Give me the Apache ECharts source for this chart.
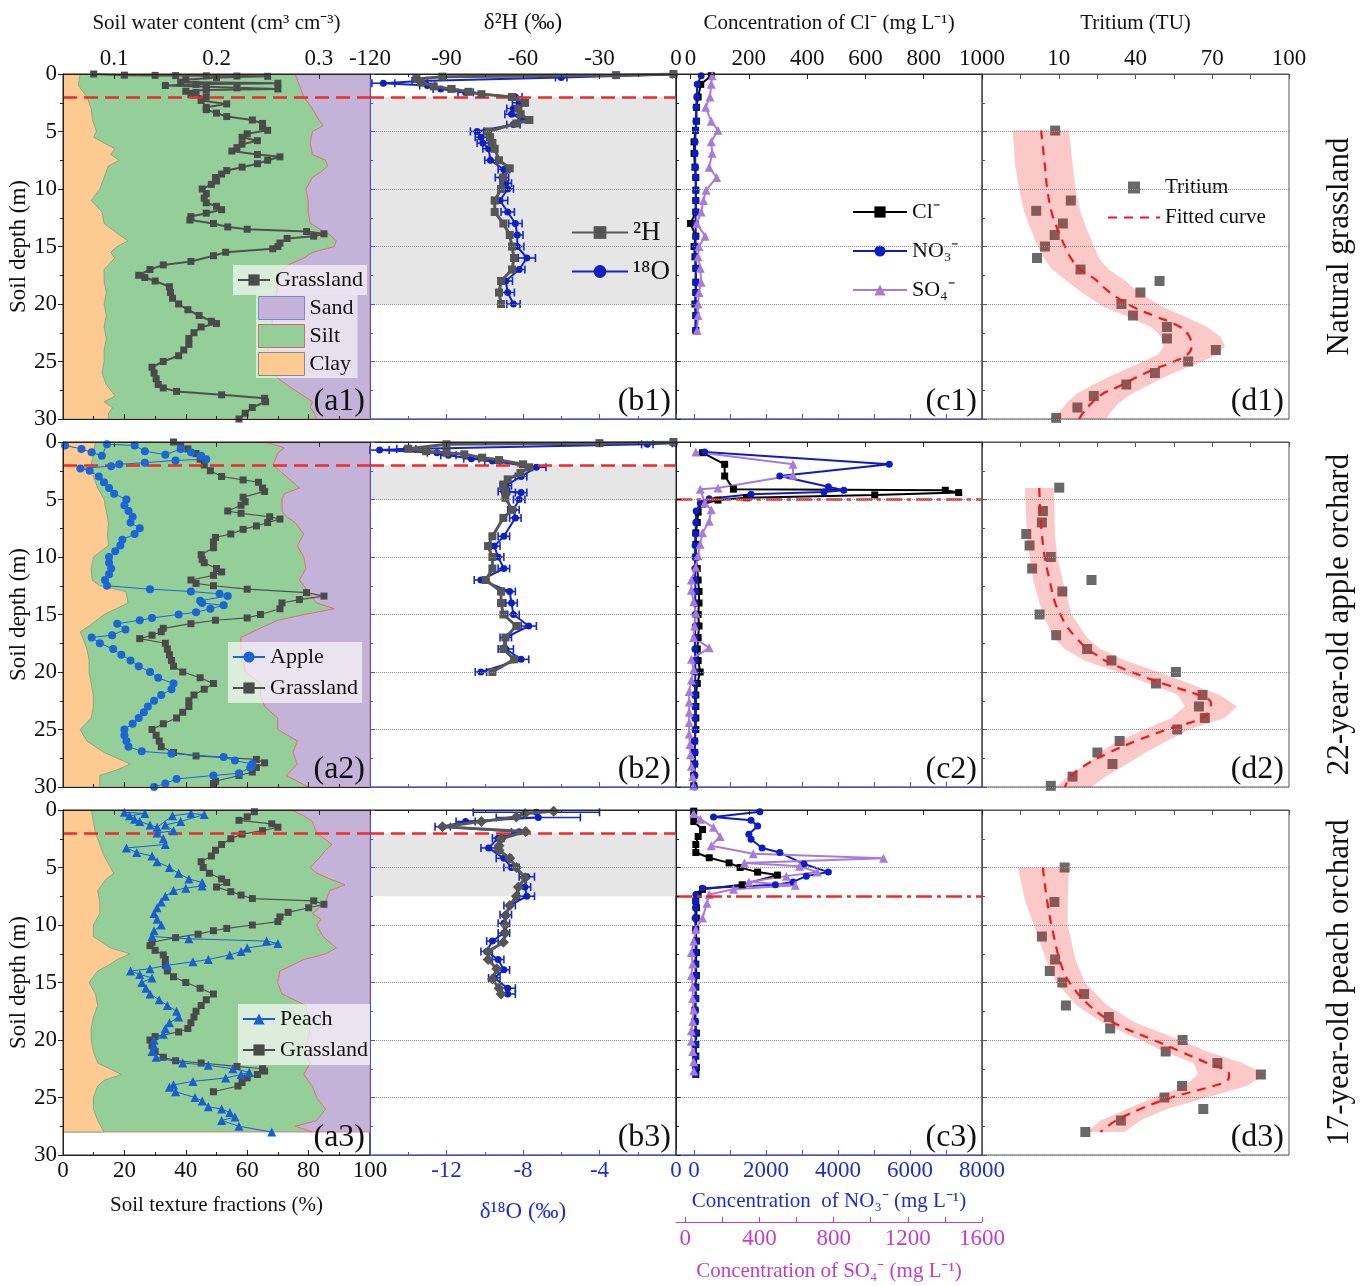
<!DOCTYPE html>
<html>
<head>
<meta charset="utf-8">
<script src="https://cdn.jsdelivr.net/npm/echarts@6/dist/echarts.min.js"></script>
<style>
html,body{margin:0;padding:0;background:#ffffff;}
#chart{width:1371px;height:1286px;}
</style>
</head>
<body>
<div id="chart"></div>
<script>
// ================= DATA (depth in m first, value second) =================
// Soil water content, grassland reference profiles (cm3 cm-3)
const GRASS1 = [[0,0.08],[0.1,0.11],[0.12,0.14],[0.14,0.16],[0.16,0.19],[0.18,0.22],[0.2,0.25],[0.3,0.20],[0.5,0.17],[0.7,0.165],[0.8,0.26],[0.9,0.18],[1.0,0.15],[1.1,0.19],[1.2,0.22],[1.3,0.26],[1.4,0.19],[1.5,0.17],[1.6,0.18],[1.8,0.175],[2.0,0.19],[2.3,0.185],[2.6,0.21],[2.9,0.19],[3.1,0.19],[3.4,0.20],[3.7,0.21],[4.0,0.235],[4.3,0.245],[4.6,0.245],[4.9,0.25],[5.2,0.23],[5.5,0.225],[5.8,0.24],[6.1,0.225],[6.4,0.22],[6.7,0.215],[7.0,0.24],[7.2,0.262],[7.5,0.25],[7.8,0.24],[8.1,0.225],[8.4,0.21],[8.7,0.205],[9.0,0.199],[9.3,0.20],[9.6,0.195],[10.0,0.186],[10.4,0.19],[10.8,0.188],[11.2,0.19],[11.5,0.20],[11.8,0.205],[12.1,0.19],[12.4,0.175],[12.7,0.174],[13.0,0.197],[13.3,0.211],[13.5,0.23],[13.7,0.288],[13.9,0.305],[14.1,0.295],[14.3,0.269],[14.7,0.262],[15.0,0.26],[15.2,0.255],[15.5,0.209],[15.8,0.197],[16.3,0.175],[16.6,0.148],[17.0,0.135],[17.5,0.124],[17.7,0.13],[18.0,0.14],[18.5,0.154],[19.0,0.155],[19.5,0.157],[20.0,0.163],[20.5,0.172],[21.0,0.183],[21.5,0.195],[21.7,0.2],[22.0,0.185],[22.5,0.178],[23.0,0.173],[23.5,0.173],[24.0,0.168],[24.5,0.163],[25.0,0.148],[25.5,0.137],[26.0,0.139],[26.5,0.141],[27.0,0.143],[27.3,0.148],[27.6,0.161],[27.9,0.205],[28.2,0.247],[28.5,0.248],[29.0,0.235],[29.5,0.228],[30.0,0.222]];
const GRASS2 = [[0,0.158],[0.3,0.165],[0.6,0.172],[1.0,0.18],[1.5,0.184],[2.0,0.188],[2.5,0.194],[3.0,0.205],[3.3,0.226],[3.5,0.241],[4.0,0.245],[4.3,0.247],[4.8,0.226],[5.2,0.228],[5.5,0.224],[6.0,0.211],[6.2,0.224],[6.5,0.252],[6.7,0.262],[7.0,0.25],[7.3,0.239],[7.6,0.226],[8.0,0.214],[8.3,0.199],[8.7,0.197],[9.2,0.197],[9.8,0.185],[10.2,0.186],[10.5,0.188],[11.0,0.2],[11.3,0.205],[11.6,0.197],[12.0,0.175],[12.3,0.18],[12.5,0.197],[12.8,0.23],[13.1,0.288],[13.4,0.305],[13.7,0.281],[14.0,0.264],[14.5,0.262],[15.0,0.243],[15.3,0.23],[15.5,0.199],[15.8,0.175],[16.2,0.148],[16.5,0.146],[16.8,0.137],[17.1,0.125],[17.5,0.15],[18.0,0.152],[18.5,0.154],[19.0,0.156],[19.5,0.158],[20.0,0.167],[20.5,0.184],[21.0,0.197],[21.5,0.188],[22.0,0.178],[22.5,0.173],[23.0,0.173],[23.5,0.167],[24.0,0.161],[24.5,0.148],[25.0,0.137],[25.5,0.141],[26.0,0.144],[26.5,0.146],[27.0,0.158],[27.3,0.18],[27.6,0.239],[27.9,0.247],[28.3,0.239],[28.7,0.235],[29.0,0.222],[29.5,0.199],[29.7,0.197]];
const GRASS3 = [[0.15,0.237],[0.6,0.23],[0.9,0.222],[1.2,0.254],[1.5,0.26],[1.8,0.245],[2.1,0.225],[2.5,0.214],[3.0,0.205],[3.5,0.199],[4.0,0.195],[4.5,0.185],[5.0,0.187],[5.5,0.193],[6.0,0.205],[6.3,0.21],[6.7,0.2],[7.1,0.214],[7.4,0.224],[7.7,0.235],[7.9,0.295],[8.2,0.305],[8.5,0.29],[8.9,0.27],[9.3,0.262],[9.7,0.26],[10.0,0.235],[10.3,0.21],[10.5,0.197],[10.8,0.182],[11.1,0.16],[11.5,0.137],[11.8,0.135],[12.2,0.14],[12.6,0.148],[13.0,0.15],[13.5,0.15],[14.0,0.152],[14.5,0.158],[15.0,0.17],[15.5,0.184],[16.0,0.197],[16.5,0.19],[17.0,0.185],[17.5,0.18],[18.0,0.178],[18.5,0.175],[19.0,0.172],[19.3,0.163],[19.7,0.14],[20.0,0.135],[20.5,0.137],[21.0,0.14],[21.5,0.148],[21.8,0.16],[22.0,0.185],[22.3,0.22],[22.5,0.245],[22.7,0.247],[23.0,0.24],[23.3,0.23],[23.7,0.225],[24.0,0.221],[24.5,0.197]];
// Soil water content, orchards
const APPLE = [[0.3,0.052],[0.6,0.068],[0.9,0.078],[1.2,0.088],[0.2,0.093],[0.3,0.12],[0.8,0.13],[1.1,0.15],[0.6,0.165],[0.9,0.175],[1.2,0.185],[1.5,0.19],[1.6,0.16],[1.8,0.13],[1.94,0.105],[2.1,0.097],[2.3,0.067],[2.5,0.076],[3.0,0.085],[3.5,0.09],[4.0,0.095],[4.5,0.1],[5.0,0.112],[5.5,0.11],[6.0,0.114],[6.5,0.118],[7.0,0.116],[7.5,0.125],[8.0,0.12],[8.5,0.108],[9.0,0.106],[9.5,0.101],[10.0,0.095],[10.5,0.095],[11.0,0.097],[11.5,0.095],[12.0,0.091],[12.5,0.093],[12.8,0.135],[13.0,0.175],[13.2,0.203],[13.4,0.211],[13.8,0.184],[14.0,0.186],[14.2,0.207],[14.5,0.194],[14.8,0.18],[15.0,0.163],[15.3,0.137],[15.5,0.125],[15.8,0.103],[16.3,0.111],[16.8,0.098],[17.0,0.078],[17.5,0.086],[18.0,0.099],[18.5,0.107],[19.0,0.116],[19.5,0.124],[20.0,0.135],[20.5,0.143],[21.0,0.158],[21.5,0.156],[22.0,0.146],[22.5,0.139],[23.0,0.133],[23.5,0.129],[24.0,0.124],[24.5,0.118],[25.0,0.11],[25.5,0.11],[26.0,0.112],[26.5,0.114],[26.9,0.127],[27.1,0.156],[27.4,0.207],[27.7,0.218],[28.0,0.235],[28.3,0.233],[28.8,0.222],[29.0,0.197],[29.3,0.161],[29.7,0.15],[30.0,0.139]];
const PEACH = [[0.2,0.11],[0.3,0.13],[0.5,0.115],[0.8,0.12],[1.0,0.125],[1.3,0.135],[1.5,0.142],[0.5,0.157],[0.3,0.175],[0.4,0.188],[1.0,0.165],[1.3,0.15],[1.8,0.158],[2.0,0.142],[2.5,0.148],[3.0,0.15],[3.3,0.112],[3.7,0.122],[4.0,0.137],[4.5,0.142],[5.0,0.154],[5.5,0.163],[6.0,0.173],[6.3,0.186],[6.6,0.186],[6.8,0.17],[7.0,0.158],[7.5,0.15],[8.0,0.146],[8.5,0.142],[9.0,0.139],[9.5,0.142],[10.0,0.146],[10.5,0.139],[11.0,0.137],[11.2,0.173],[11.4,0.249],[11.6,0.26],[12.0,0.23],[12.3,0.224],[12.6,0.213],[13.0,0.192],[13.2,0.177],[13.5,0.152],[13.8,0.135],[14.0,0.116],[14.3,0.125],[14.6,0.137],[15.0,0.127],[15.5,0.131],[16.0,0.135],[16.5,0.144],[17.0,0.152],[17.5,0.161],[18.0,0.163],[18.5,0.154],[19.0,0.15],[19.5,0.148],[20.0,0.139],[20.5,0.139],[21.0,0.137],[21.5,0.141],[22.0,0.167],[22.2,0.192],[22.5,0.216],[22.8,0.232],[23.0,0.224],[23.3,0.209],[23.6,0.177],[23.9,0.158],[24.1,0.154],[24.5,0.16],[25.0,0.179],[25.3,0.186],[25.8,0.192],[26.0,0.205],[26.3,0.213],[26.7,0.218],[27.0,0.205],[27.5,0.222],[28.0,0.254]];
// Soil texture: clay fraction and clay+silt boundary (%)
const CLAY1 = [[0,5.6],[1,5],[2,7.8],[3,9.2],[4,9.6],[5,10.9],[5.5,10],[6,13.4],[6.5,16.9],[7,15.5],[7.5,18.4],[8,14.8],[9,13.4],[10,12],[11,9.2],[12,12.7],[13,13.4],[14,18.4],[14.5,21.2],[15,17.7],[15.5,15.5],[16,16.9],[17,13.4],[18,13.4],[19,14.1],[20,13.4],[21,14.1],[22,13.4],[23,14.1],[24,13.4],[25,13.4],[26,12.7],[27,14.1],[28,17],[28.5,13.4],[29,16.2],[29.5,14.8],[30,14.8]];
const SILT1 = [[0,75.6],[1,77],[2,78.4],[3,81.2],[4,83.3],[4.5,84.7],[5,81.2],[6,80.5],[7,81.2],[7.5,85.5],[8,86.2],[8.5,84],[9,81.2],[10,79.1],[11,79.8],[12,79.8],[13,80.5],[14,86.9],[14.5,89],[15,88.3],[15.5,81.2],[16,78.4],[16.5,74.2],[17,71.3],[18,69.9],[19,69.6],[20,69.2],[21,68.5],[22,67.8],[23,67.1],[24,66.8],[25,67.1],[26,67.8],[27,72.7],[28,78.4],[28.5,81.2],[29,80.5],[29.5,81.9],[30,82.6]];
const CLAY2 = [[0,10.6],[1,9.9],[2,9.2],[3,9.9],[4,11.3],[5,13.4],[6,14.1],[7,14.8],[8,14.5],[9,14.8],[10,9.9],[11,9.2],[12,9.5],[12.5,12],[13,20.5],[14,21.2],[15,13.4],[16,8.5],[16.5,5.6],[17,6.4],[18,7.8],[19,8.5],[20,8.5],[21,9.2],[22,9.9],[23,9.9],[24,9.2],[25,5.6],[26,7.8],[27,13.4],[28,21.9],[28.5,17.7],[29,12],[30,12]];
const SILT2 = [[0,65.7],[0.5,72],[1,69.9],[2,68.4],[3,72.7],[4,77],[4.5,72],[5,71.3],[6,71.3],[6.5,72.7],[7,75.6],[8,78.4],[9,76.3],[10,78.4],[11,79.1],[12,77],[13,79.8],[14,82.6],[14.5,88.3],[15,78.4],[15.5,69.9],[16,65.7],[17,57.9],[18,57.9],[19,58.6],[20,59.3],[21,64.3],[22,64.3],[23,65.7],[24,69.9],[25,69.9],[26,76.3],[27,74.9],[28,76.3],[29,72.7],[30,79.8]];
const CLAY3 = [[0,9.2],[1,9.9],[2,10.6],[3,12],[4,13.4],[5,15.5],[5.5,16.5],[6,14.1],[7,11.3],[8,12],[9,12],[10,9.9],[11,9.9],[12,15.5],[12.5,21.9],[13,17.7],[13.5,14.8],[14,11.3],[15,8.5],[16,10.6],[17,11.3],[18,9.9],[19,9.2],[20,9.2],[21,9.9],[22,11.3],[23,19.1],[23.5,13.4],[24,11.3],[25,9.9],[26,9.9],[27,11.3],[28,13.4]];
const SILT3 = [[0,74.2],[0.5,78.4],[1,81.2],[2,82.6],[3,87.6],[3.5,85.5],[4,84],[5,80.5],[5.5,82.6],[6,86.9],[6.5,91.8],[7,86.9],[8,85.5],[9,81.2],[9.5,84],[10,82.6],[11,84.7],[12,89],[12.5,85.5],[13,78.4],[14,70.6],[15,69.9],[16,71.3],[17,79.1],[18,79.8],[19,80.5],[20,79.8],[21,78.4],[22,80.5],[23,78.4],[24,81.2],[25,82.6],[26,85.5],[27,82.6],[27.5,75.6],[28,81.2]];
// Stable isotopes: δ2H (‰) and δ18O (‰, error)
const H2_1 = [[0,-1],[0.1,-23.5],[0.23,-91.6],[0.44,-101.8],[0.73,-100],[1.08,-95],[1.3,-88],[1.55,-81.4],[1.75,-76.3],[2.0,-64.3],[2.5,-59.2],[3.0,-61.8],[3.5,-60.9],[4.0,-57.5],[4.3,-62.6],[5.0,-73.7],[5.5,-72.9],[6.0,-72.0],[6.5,-71.1],[7.5,-69.4],[8.2,-65.2],[9.0,-67.7],[10.0,-68.6],[11.0,-71.1],[12.0,-71.1],[13.0,-67.7],[14.0,-65.2],[15.0,-64.3],[16.0,-63.5],[17.0,-64.3],[18.0,-68.6],[19.0,-69.4],[20.0,-68.6]];
const O18_1 = [[0.05,-0.1,0.1],[0.3,-6.0,0.3],[0.6,-13.4,0.4],[0.8,-15.3,0.6],[1.0,-13.0,0.4],[1.3,-12.3,0.4],[1.6,-11.0,0.4],[2.0,-8.4,0.35],[2.5,-8.2,0.35],[3.0,-8.5,0.35],[3.5,-8.6,0.35],[4.0,-7.9,0.35],[4.4,-8.5,0.35],[5.0,-10.4,0.35],[5.5,-10.2,0.3],[6.0,-10.1,0.3],[6.5,-9.8,0.3],[7.5,-9.7,0.3],[8.3,-9.0,0.3],[9.0,-9.1,0.35],[9.5,-8.9,0.3],[10.0,-8.8,0.3],[11.0,-9.2,0.4],[12.0,-8.8,0.35],[13.0,-8.4,0.35],[14.0,-8.3,0.3],[15.0,-8.3,0.35],[16.0,-7.8,0.45],[17.0,-8.2,0.3],[18.0,-8.9,0.35],[19.0,-8.8,0.35],[20.0,-8.5,0.35]];
const H2_2 = [[0,-1],[0.1,-30],[0.2,-90],[0.58,-105],[0.8,-98],[0.93,-90],[1.07,-83],[1.36,-76],[1.57,-69.4],[1.94,-60],[2.2,-57.5],[2.7,-61],[3.25,-66],[3.7,-67.7],[4.3,-66.9],[4.85,-66.9],[5.9,-64.3],[6.6,-67.7],[8.2,-72],[9.05,-73.7],[10,-72],[11,-72],[12,-74.6],[13,-68.6],[14,-68.6],[15,-67.7],[16,-62.6],[17,-66.9],[18,-67.7],[18.9,-63.5],[20,-72]];
const O18_2 = [[0.1,-0.1,0.1],[0.2,-1.5,0.3],[0.6,-14.1,0.5],[0.7,-15.5,0.5],[0.93,-12.5,0.5],[1.16,-11.9,0.4],[1.45,-10.7,0.4],[1.65,-9.6,0.4],[2.2,-7.3,0.5],[3.0,-8.1,0.3],[3.8,-8.9,0.3],[4.3,-9.0,0.3],[4.4,-8.1,0.3],[5.0,-8.2,0.3],[5.9,-8.5,0.3],[6.6,-8.4,0.3],[8.2,-9.0,0.3],[9.05,-9.5,0.3],[10.0,-9.3,0.3],[11.0,-9.0,0.3],[12.0,-10.2,0.35],[13.0,-8.7,0.3],[14.0,-8.6,0.3],[15.0,-8.5,0.3],[16.0,-7.7,0.4],[17.0,-8.9,0.3],[18.0,-8.9,0.4],[18.9,-8.1,0.4],[20.0,-10.2,0.3]];
const H2_3 = [[0.1,-48],[0.3,-59.2],[0.6,-62.6],[1.0,-76.3],[1.45,-91.6],[1.88,-59.0],[2.5,-68.6],[3.1,-69.4],[3.5,-69.4],[4.2,-65.2],[5.0,-62.6],[5.9,-59.2],[6.7,-61.8],[7.5,-62.6],[8.3,-65.2],[9.2,-66.9],[10.0,-66.9],[10.7,-66.9],[11.5,-67.7],[12.3,-73.7],[13.0,-73.7],[13.8,-70.3],[14.7,-72.0],[15.5,-69.4],[16.0,-68.6]];
const O18_3 = [[0.2,-7.3,3.3],[0.65,-7.2,2.2],[1.0,-11.0,0.5],[1.45,-12.2,0.4],[1.9,-8.2,0.4],[2.45,-9.3,0.3],[3.3,-9.8,0.4],[4.2,-9.0,0.4],[5.0,-8.6,0.4],[5.8,-7.8,0.4],[6.7,-7.9,0.3],[7.5,-7.8,0.4],[8.3,-8.7,0.3],[9.1,-8.9,0.3],[9.85,-9.0,0.3],[10.7,-9.0,0.3],[11.4,-9.6,0.3],[12.3,-9.9,0.3],[13.0,-9.3,0.3],[13.9,-9.0,0.3],[14.6,-9.5,0.3],[15.5,-8.8,0.4],[16.0,-8.8,0.4]];
// Ions (mg/L)
const CL1 = [[0.15,71],[0.9,35],[2,26],[2.9,20],[4.1,20],[4.9,17],[5.9,12],[6.9,12],[8.1,15],[9,18],[10.1,18],[11,18],[12,18],[13,0],[14.1,18],[15,12],[15.9,15],[16.9,18],[18.1,18],[19,18],[20,15],[21,18],[22.3,18]];
const NO3_1 = [[0.15,200],[0.9,90],[2,75],[2.9,60],[4.1,55],[4.9,50],[5.9,30],[6.9,30],[8.1,40],[9,45],[10.1,50],[11,50],[12,45],[13,45],[14.1,50],[15,40],[15.9,45],[16.9,50],[18.1,45],[19,45],[20,40],[21,45],[22.3,40]];
const SO4_1 = [[0.15,145],[0.9,140],[2,133],[2.9,110],[4.1,140],[4.9,176],[5.9,140],[6.9,145],[8.1,129],[9,169],[10.1,112],[11,98],[12,86],[13,62],[14.1,107],[15,74],[15.9,69],[16.9,81],[18.1,86],[19,74],[20,69],[21,69],[22.3,64]];
const CL2 = [[0.93,41],[1.94,117],[2.96,117],[4.1,147],[4.2,874],[4.4,920],[4.6,632],[4.85,192],[5.05,94],[5.4,41],[6.1,26],[7,23],[7.9,18],[8.9,18],[10,18],[11,23],[12,26],[13,29],[14,29],[15,26],[16,29],[17,26],[18,23],[19,26],[20,33],[21,23],[22,18],[23,18],[24,18],[25,18],[26,14],[27,14],[28,14],[29,11],[29.9,11]];
const NO3_2 = [[0.87,297],[1.94,5424],[2.96,2383],[3.9,3732],[4.2,4161],[4.35,3609],[4.55,1585],[4.93,420],[5.3,175],[6,60],[7,50],[8,40],[9,30],[10,30],[11,25],[12,35],[13,40],[14,30],[15,30],[16,35],[17,30],[18,25],[19,35],[20,40],[21,30],[22,25],[23,30],[24,25],[25,30],[26,25],[27,30],[28,25],[29,25],[30,20]];
const SO4_2 = [[0.87,57],[1.94,581],[2.9,581],[4.0,176],[4.1,81],[5.3,105],[5.9,140],[6.9,129],[7.9,93],[8.9,80],[9.9,69],[10.9,57],[12,33],[12.9,33],[13.9,45],[14.9,57],[16,50],[17,45],[17.9,129],[18.9,33],[19.8,45],[20.7,33],[21.7,21],[22.6,21],[23.5,21],[24.4,21],[25.4,21],[26.3,25],[27.2,28],[28.2,33],[29.1,40],[29.9,45]];
const CL3 = [[0.1,11],[1,11],[1.7,41],[2.3,26],[3,18],[3.7,18],[4.15,64],[4.6,132],[5,170],[5.4,230],[5.66,298],[6.5,177],[6.9,41],[7.35,26],[7.9,18],[8.5,20],[9.4,20],[10.4,18],[11.4,20],[12.4,20],[13.4,18],[14.4,20],[15.4,18],[16.4,18],[17.4,15],[18.4,15],[19.4,20],[20.4,18],[21.4,18],[22.4,20],[23,18]];
const NO3_3 = [[0.15,1830],[0.6,543],[0.9,1585],[1.4,1769],[2.1,1524],[2.55,1585],[3.3,1892],[3.7,2383],[4.7,3057],[5.4,3732],[5.75,3119],[6.25,2750],[6.5,2260],[6.8,236],[7.35,52],[7.9,40],[8.5,40],[9.4,30],[10.4,40],[11.4,45],[12.4,40],[13.4,40],[14.4,45],[15.4,40],[16.4,45],[17.4,40],[18.4,45],[19.4,40],[20.4,45],[21.4,40],[22.4,40],[23,45]];
const SO4_3 = [[0.3,45],[0.8,81],[1.5,152],[2.3,188],[3.1,140],[3.8,367],[4.2,1069],[4.6,319],[4.9,617],[5.4,712],[5.75,545],[6.25,343],[6.55,593],[6.9,260],[7.35,129],[8.1,117],[9.4,93],[10.4,57],[11.4,45],[12.4,33],[13.4,40],[14.4,33],[15.4,40],[16.4,40],[17.4,45],[18.4,40],[19.2,33],[20.1,33],[21,40],[21.9,45],[22.7,45]];
// Tritium (TU): measured, fitted curve, confidence band [depth, low, high]
const TU1 = [[4.92,8.6],[11,14.7],[11.9,1.2],[13,11.6],[14,8.4],[15,4.6],[16,1.5],[17,18.5],[18,49.4],[19,41.9],[20,34.5],[21,39],[22,52.3],[23,52.3],[24,71.4],[25,60.6],[26,47.6],[27,36.4],[28,23.7],[29,17.3],[29.9,9]];
const FIT1 = [[4.9,3.1],[8,4.6],[10,5.5],[12,7.2],[13.2,9],[14.6,11.6],[16.1,15],[17,18.5],[17.8,23.9],[19,30],[20.3,39.5],[21,47],[22,57.5],[22.8,61],[23.7,61.9],[24.4,60.2],[25.1,54],[25.7,47],[26.4,40.2],[27.2,33.2],[27.8,27.2],[28.6,22.9],[29.5,19.4],[30,18]];
const BAND1 = [[4.9,-8,14],[8,-7,15.5],[10,-5.5,16.5],[12,-3.5,18.5],[13.2,-1.5,20.5],[14.6,1,23],[16.1,4.5,26],[17,7.5,29.5],[17.8,12,35],[19,19,41.5],[20.3,28,51],[21,36,58.5],[22,46,68],[22.8,50,73],[23.7,51,75],[24.4,49,72],[25.1,42,65],[25.7,36,58],[26.4,29,51],[27.2,22,44],[27.8,17,38.5],[28.6,13,33.5],[29.5,10,30],[30,8.5,28.5]];
const TU2 = [[3.97,10.2],[6,3.8],[7,3.4],[8,-2.7],[9,-1.4],[10,6.9],[11,-0.4],[12,22.8],[13,11.4],[15,2.5],[16.8,9],[18,21.1],[19,30.6],[20,55.8],[21,48],[22,66.2],[23,64.8],[24,67.1],[25,56.3],[26,33.8],[27,25.1],[28,31],[29.1,15.4],[29.9,6.9]];
const FIT2 = [[4,2.4],[6,2.7],[8,3.4],[10,4.5],[12,6.4],[14,8.6],[15,10.7],[16,13],[17,16.8],[18,21],[18.5,24.6],[19,28],[20,38.4],[21,50.6],[22,64.5],[22.7,69.5],[23.3,69],[24,66.2],[25,52.3],[26,40.2],[27,29.8],[28,21.1],[29,15],[30,12.4]];
const BAND2 = [[4,-3.2,8.1],[8,-2.5,8.5],[10,-1.4,9.5],[12,0,11.5],[15,3.8,15],[17,8,21],[18,12.4,26.3],[19,20,36],[20,33,49],[21,45,61],[22,56.6,73],[23,59.3,79.7],[24,54,74.8],[25,43.6,61],[26,33.2,52.3],[27,26,44],[28,21,36.7],[29,14,28.9],[30,9,22.8]];
const TU3 = [[5,12.3],[8,8.3],[11,3.4],[13,8.6],[14,6.5],[15,11.4],[16,19.9],[17,12.8],[18,29.6],[19,30.1],[20,58.4],[21,51.8],[22,72],[23,89],[24,58.2],[25,51.3],[26,66.5],[27,34.3],[28,20.4]];
const FIT3 = [[5,3.8],[8,5.5],[11,8.1],[13.5,11],[15,14.2],[17,22],[18.5,31.5],[20,47.1],[21,57.5],[22,67.9],[23,76.6],[23.5,76],[24,70.5],[25,54],[26,41.9],[27,32.4],[28,26.3]];
const BAND3 = [[5,-6,14],[8,-3,13.5],[10,0.3,13.5],[13,5,16.5],[15,9,20.2],[17,17,29],[18.5,27,40],[20,41.9,57.5],[21,51,68],[22,62.7,81.8],[23,64.4,90.5],[24,59.2,83.5],[25,47.1,67.9],[26,36.7,52.3],[27,26.3,41.9],[28,21,35.8]];
// Reference depths (m)
const RED_DEPTH = 2;
const SHADE = [[2,20],[2,5],[2,7.5]];
const DRAIN = [null, 5, 7.5];
// Tick label sets
const SWC_TICKS = [0.1,0.2,0.3];
const CL_TICKS = [0,200,400,600,800,1000];
const NO3_TICKS = [0,1000,2000,3000,4000,5000,6000,7000,8000];
const NO3_LABELS = [0,2000,4000,6000,8000];
const SO4_TICKS = [0,200,400,600,800,1000,1200,1400,1600];
const SO4_LABELS = [0,400,800,1200,1600];
const TU_TICKS = [-5,10,25,40,55,70,85,100];
const TU_LABELS = [10,40,70,100];
const ROW_TITLES = ['Natural grassland','22-year-old apple orchard','17-year-old peach orchard'];

// ================= LAYOUT / STYLE =================
const FONT = '"Liberation Serif","Times New Roman",Times,serif';
const COLS = [{l:63,w:307},{l:370,w:306},{l:676,w:306},{l:982,w:307}];
const ROWS = [74,442,810];
const H = 345;
const TICKFS = 23, NAMEFS = 21;
const AX = '#222', BLUEAX = '#3d50e2', BLUETX = '#1d2cd3', MAG = '#c23ccd';
const SAND = '#c4b3d8', SILTC = '#94cf99', CLAYC = '#fdca92';
function ts(size, color){ return {fontFamily: FONT, fontSize: size, color: color || '#111'}; }
const flip = arr => arr.map(p => [p[1], p[0]]);
const plain = v => String(Math.round(v * 1000) / 1000);

const GRASS = [GRASS1, GRASS2, GRASS3];
const CLAY = [CLAY1, CLAY2, CLAY3], SILT = [SILT1, SILT2, SILT3];
const H2 = [H2_1, H2_2, H2_3], O18 = [O18_1, O18_2, O18_3];
const CL = [CL1, CL2, CL3], NO3 = [NO3_1, NO3_2, NO3_3], SO4 = [SO4_1, SO4_2, SO4_3];
const TU = [TU1, TU2, TU3], FIT = [FIT1, FIT2, FIT3], BAND = [BAND1, BAND2, BAND3];

const grids = [], xAxes = [], yAxes = [], series = [];

function xAxis(grid, pos, min, max, o) {
  const lc = o.lineColor || AX;
  const a = {
    gridIndex: grid, type: 'value', position: pos, min: min, max: max, z: 10,
    axisLine: {show: true, onZero: false, lineStyle: {color: lc, width: 1}},
    axisTick: {show: true, inside: true, length: 5, lineStyle: {color: lc}},
    axisLabel: Object.assign({show: !!o.labels, margin: o.margin || 4, formatter: o.formatter || plain}, ts(TICKFS, o.labelColor)),
    splitLine: {show: false}
  };
  if (o.interval) {
    a.interval = o.interval;
    a.minorTick = {show: true, splitNumber: 2, length: 3, lineStyle: {color: lc}};
  }
  if (o.tickValues) a.axisTick.customValues = o.tickValues;
  if (o.labelValues) a.axisLabel.customValues = o.labelValues;
  if (o.hideMin) a.axisLabel.showMinLabel = false;
  if (o.name) {
    a.name = o.name; a.nameLocation = 'middle'; a.nameGap = o.nameGap;
    a.nameTextStyle = ts(o.nameSize || NAMEFS, o.nameColor);
  }
  if (o.offset) a.offset = o.offset;
  if (o.show === false) a.show = false;
  xAxes.push(a);
  return xAxes.length - 1;
}

function poly(name, xi, yi, pts, fill, stroke, z) {
  return {
    type: 'custom', name: name, xAxisIndex: xi, yAxisIndex: yi, z: z, silent: true,
    data: [pts[0]], encode: {x: 0, y: 1}, itemStyle: {color: fill},
    renderItem: function (params, api) {
      return {type: 'polygon', shape: {points: pts.map(p => api.coord(p))},
        style: {fill: fill, stroke: stroke || 'none', lineWidth: 0.8}};
    }
  };
}

function errBar(color) {
  return function (params, api) {
    const x = api.value(0), y = api.value(1), e = api.value(2);
    const a = api.coord([x - e, y]), b = api.coord([x + e, y]);
    const h = 4, st = {stroke: color, lineWidth: 1.6};
    return {type: 'group', children: [
      {type: 'line', shape: {x1: a[0], y1: a[1], x2: b[0], y2: b[1]}, style: st},
      {type: 'line', shape: {x1: a[0], y1: a[1] - h, x2: a[0], y2: a[1] + h}, style: st},
      {type: 'line', shape: {x1: b[0], y1: b[1] - h, x2: b[0], y2: b[1] + h}, style: st}
    ]};
  };
}

const redLine = {silent: true, symbol: ['none','none'], label: {show: false},
  lineStyle: {color: '#ee2b2b', type: [14,7], width: 2.5}, data: [{yAxis: RED_DEPTH}]};

for (let r = 0; r < 3; r++) {
  const top = r === 0, bot = r === 2;
  for (let c = 0; c < 4; c++) {
    grids.push({left: COLS[c].l, top: ROWS[r], width: COLS[c].w, height: H, show: true,
      borderColor: c === 3 ? '#555' : AX, borderWidth: 1, backgroundColor: 'transparent'});
    const lc = c === 1 ? BLUEAX : (c === 3 ? '#555' : AX);
    yAxes.push({
      gridIndex: r*4 + c, type: 'value', inverse: true, min: 0, max: 30, interval: 5, position: 'left', z: 10,
      axisLine: {show: true, onZero: false, lineStyle: {color: lc, width: 1}},
      axisTick: {show: true, inside: c !== 0, length: 5, lineStyle: {color: lc}},
      minorTick: {show: true, splitNumber: 2, length: 3, lineStyle: {color: lc}},
      axisLabel: Object.assign({show: c === 0, margin: 6}, ts(TICKFS)),
      splitLine: {show: c !== 0, lineStyle: {type: 'dotted', color: '#8c8c8c', width: 1}},
      name: c === 0 ? 'Soil depth (m)' : '', nameLocation: 'middle', nameGap: 31,
      nameTextStyle: ts(23)
    });
  }
  const gA = r*4, gB = gA + 1, gC = gA + 2, gD = gA + 3;
  const xSWC = xAxis(gA, 'top', 0.05, 0.35, {tickValues: SWC_TICKS, labelValues: SWC_TICKS, labels: top,
    formatter: v => v.toFixed(1), name: top ? 'Soil water content (cm³ cm⁻³)' : null, nameGap: 40});
  const xTex = xAxis(gA, 'bottom', 0, 100, {interval: 20, labels: bot,
    name: bot ? 'Soil texture fractions (%)' : null, nameGap: 40});
  const xH = xAxis(gB, 'top', -120, 0, {interval: 30, labels: top, name: top ? 'δ²H (‰)' : null, nameGap: 40, nameSize: 23});
  const xO = xAxis(gB, 'bottom', -16, 0, {interval: 4, labels: bot, hideMin: true, lineColor: BLUEAX,
    labelColor: BLUETX, name: bot ? 'δ¹⁸O (‰)' : null, nameGap: 45, nameSize: 23, nameColor: BLUETX});
  const xCl = xAxis(gC, 'top', -50, 1000, {tickValues: CL_TICKS, labelValues: CL_TICKS, labels: top,
    name: top ? 'Concentration of Cl⁻ (mg L⁻¹)' : null, nameGap: 40});
  const xN = xAxis(gC, 'bottom', -500, 8000, {tickValues: NO3_TICKS, labelValues: NO3_LABELS, labels: bot,
    lineColor: BLUEAX, labelColor: BLUETX, name: bot ? 'Concentration  of NO₃⁻ (mg L⁻¹)' : null, nameGap: 36, nameColor: BLUETX});
  const xS = xAxis(gC, 'bottom', -50, 1600, {tickValues: SO4_TICKS, labelValues: SO4_LABELS, labels: bot, show: bot,
    offset: 67, margin: 5, lineColor: MAG, labelColor: MAG, name: bot ? 'Concentration of SO₄⁻ (mg L⁻¹)' : null, nameGap: 39, nameColor: MAG});
  const xT = xAxis(gD, 'top', -20, 100, {tickValues: TU_TICKS, labelValues: TU_LABELS, labels: top, lineColor: '#555',
    name: top ? 'Tritium (TU)' : null, nameGap: 40});

  // --- panel a: soil texture + soil water content
  const sl = flip(SILT[r]), cl = flip(CLAY[r]);
  const d0 = SILT[r][0][0], dN = SILT[r][SILT[r].length - 1][0];
  const c0 = CLAY[r][0][0], cN = CLAY[r][CLAY[r].length - 1][0];
  series.push(poly('Sand', xTex, gA, [[100, d0]].concat(sl, [[100, dN]]), SAND, '#e36b6b', 1));
  series.push(poly('Silt', xTex, gA, [[0, d0]].concat(sl, [[0, dN]]), SILTC, '#e36b6b', 1));
  series.push(poly('Clay', xTex, gA, [[0, c0]].concat(cl, [[0, cN]]), CLAYC, '#7f9c80', 1));
  series.push({type: 'line', name: 'Grassland', xAxisIndex: xSWC, yAxisIndex: gA, z: 4,
    data: flip(GRASS[r]), symbol: 'rect', symbolSize: 7, itemStyle: {color: '#4a4a4a'},
    lineStyle: {color: '#505050', width: r === 0 ? 2 : 1.2}, markLine: redLine});
  if (r === 1) series.push({type: 'line', name: 'Apple', xAxisIndex: xSWC, yAxisIndex: gA, z: 5,
    data: flip(APPLE), symbol: 'circle', symbolSize: 8, itemStyle: {color: '#1a66d6'},
    lineStyle: {color: '#1a66d6', width: 1}});
  if (r === 2) series.push({type: 'line', name: 'Peach', xAxisIndex: xSWC, yAxisIndex: gA, z: 5,
    data: flip(PEACH), symbol: 'triangle', symbolSize: 9, itemStyle: {color: '#1a5fd0'},
    lineStyle: {color: '#1a5fd0', width: 1}});

  // --- panel b: isotopes
  series.push({type: 'custom', name: 'err18', xAxisIndex: xO, yAxisIndex: gB, z: 4,
    data: O18[r].map(p => [p[1], p[0], p[2]]), encode: {x: 0, y: 1}, renderItem: errBar('#1428c8')});
  series.push({type: 'line', name: '¹⁸O', xAxisIndex: xO, yAxisIndex: gB, z: 4,
    data: flip(O18[r]), symbol: 'circle', symbolSize: 7, itemStyle: {color: '#0f20c2'},
    lineStyle: {color: '#1424c8', width: 2}});
  series.push({type: 'line', name: '²H', xAxisIndex: xH, yAxisIndex: gB, z: 5,
    data: flip(H2[r]), symbol: r === 2 ? 'diamond' : 'rect', symbolSize: r === 2 ? 11 : 8,
    itemStyle: {color: '#555'}, lineStyle: {color: '#585858', width: 3},
    markArea: {silent: true, itemStyle: {color: 'rgba(200,200,200,0.45)'},
      data: [[{yAxis: SHADE[r][0]}, {yAxis: SHADE[r][1]}]]},
    markLine: redLine});

  // --- panel c: ions
  const clSeries = {type: 'line', name: 'Cl⁻', xAxisIndex: xCl, yAxisIndex: gC, z: 4,
    data: flip(CL[r]), symbol: 'rect', symbolSize: 7, itemStyle: {color: '#000'},
    lineStyle: {color: '#000', width: 2}};
  if (DRAIN[r] !== null) clSeries.markLine = {silent: true, symbol: ['none','none'], label: {show: false},
    lineStyle: {color: '#ee2b2b', type: [16,5,4,5], width: 2.5}, data: [{yAxis: DRAIN[r]}]};
  series.push(clSeries);
  series.push({type: 'line', name: 'NO₃⁻', xAxisIndex: xN, yAxisIndex: gC, z: 4,
    data: flip(NO3[r]), symbol: 'circle', symbolSize: 7, itemStyle: {color: '#0c1dc6'},
    lineStyle: {color: '#0c1dc6', width: 2}});
  series.push({type: 'line', name: 'SO₄⁻', xAxisIndex: xS, yAxisIndex: gC, z: 4,
    data: flip(SO4[r]), symbol: 'triangle', symbolSize: 9, itemStyle: {color: '#a97ad9'},
    lineStyle: {color: '#a97ad9', width: 2}});

  // --- panel d: tritium
  series.push({type: 'scatter', name: 'Tritium', xAxisIndex: xT, yAxisIndex: gD, z: 3,
    data: flip(TU[r]), symbol: 'rect', symbolSize: 10, itemStyle: {color: '#444'}});
  const band = BAND[r];
  const bandPts = band.map(b => [b[1], b[0]]).concat(band.slice().reverse().map(b => [b[2], b[0]]));
  series.push(poly('band', xT, gD, bandPts, 'rgba(240,40,35,0.25)', null, 4));
  series.push({type: 'line', name: 'Fitted curve', xAxisIndex: xT, yAxisIndex: gD, z: 5,
    data: flip(FIT[r]), smooth: 0.4, symbol: 'none', itemStyle: {color: '#ee1a1a'},
    lineStyle: {color: '#ee1a1a', width: 2.2, type: [9,7]}});
}

const legBase = {orient: 'vertical', selectedMode: false, textStyle: ts(22), borderWidth: 0};
const legends = [
  Object.assign({}, legBase, {data: ['Grassland'], left: 233, top: 265, itemWidth: 32, itemHeight: 14,
    padding: [4,4,4,4], backgroundColor: 'rgba(255,255,255,0.65)'}),
  Object.assign({}, legBase, {data: [
      {name: 'Sand', icon: 'rect', itemStyle: {color: SAND, borderColor: '#7f86cf', borderWidth: 1}},
      {name: 'Silt', icon: 'rect', itemStyle: {color: SILTC, borderColor: '#d86b6b', borderWidth: 1}},
      {name: 'Clay', icon: 'rect', itemStyle: {color: CLAYC, borderColor: '#8a8a8a', borderWidth: 1}}],
    left: 256, top: 295, itemWidth: 46, itemHeight: 23, itemGap: 4, padding: [1,4,2,2],
    backgroundColor: 'rgba(255,255,255,0.6)'}),
  Object.assign({}, legBase, {data: ['Apple','Grassland'], left: 228, top: 642, itemWidth: 32, itemHeight: 14,
    itemGap: 9, padding: [4,4,4,4], backgroundColor: 'rgba(255,255,255,0.65)'}),
  Object.assign({}, legBase, {data: ['Peach','Grassland'], left: 238, top: 1004, itemWidth: 32, itemHeight: 14,
    itemGap: 9, padding: [4,4,4,4], backgroundColor: 'rgba(255,255,255,0.65)'}),
  Object.assign({}, legBase, {data: ['²H','¹⁸O'], left: 566, top: 214, itemWidth: 56, itemHeight: 16,
    itemGap: 12, textStyle: ts(27)}),
  Object.assign({}, legBase, {data: ['Cl⁻','NO₃⁻','SO₄⁻'], left: 850, top: 198, itemWidth: 54, itemHeight: 14,
    itemGap: 17, padding: [3,12,3,2], backgroundColor: '#fff'}),
  Object.assign({}, legBase, {data: [{name: 'Tritium', icon: 'path://M0,0H10V10H0Z'},
      {name: 'Fitted curve', itemStyle: {opacity: 0}}],
    left: 1105, top: 174, itemWidth: 52, itemHeight: 12, itemGap: 9, symbolKeepAspect: true,
    textStyle: ts(21), padding: [3,4,3,2], backgroundColor: '#fff'})
];

const graphic = [];
for (let r = 0; r < 3; r++) {
  graphic.push({type: 'text', x: 1340, y: ROWS[r] + H/2, rotation: Math.PI/2, z: 100,
    style: {text: ROW_TITLES[r], font: '31px "Liberation Serif"', fill: '#111',
      align: 'center', verticalAlign: 'middle', textAlign: 'center', textVerticalAlign: 'middle'}});
  for (let c = 0; c < 4; c++) {
    graphic.push({type: 'text', x: COLS[c].l + COLS[c].w - 5, y: ROWS[r] + H - 1, z: 100,
      style: {text: '(' + 'abcd'[c] + (r + 1) + ')', font: '32px "Liberation Serif"', fill: '#111',
        align: 'right', verticalAlign: 'bottom', textAlign: 'right', textVerticalAlign: 'bottom'}});
  }
}

const chart = echarts.init(document.getElementById('chart'), null, {renderer: 'canvas'});
chart.setOption({
  animation: false,
  backgroundColor: '#fff',
  textStyle: {fontFamily: FONT},
  grid: grids, xAxis: xAxes, yAxis: yAxes, legend: legends, series: series, graphic: graphic
});
</script>
</body>
</html>
